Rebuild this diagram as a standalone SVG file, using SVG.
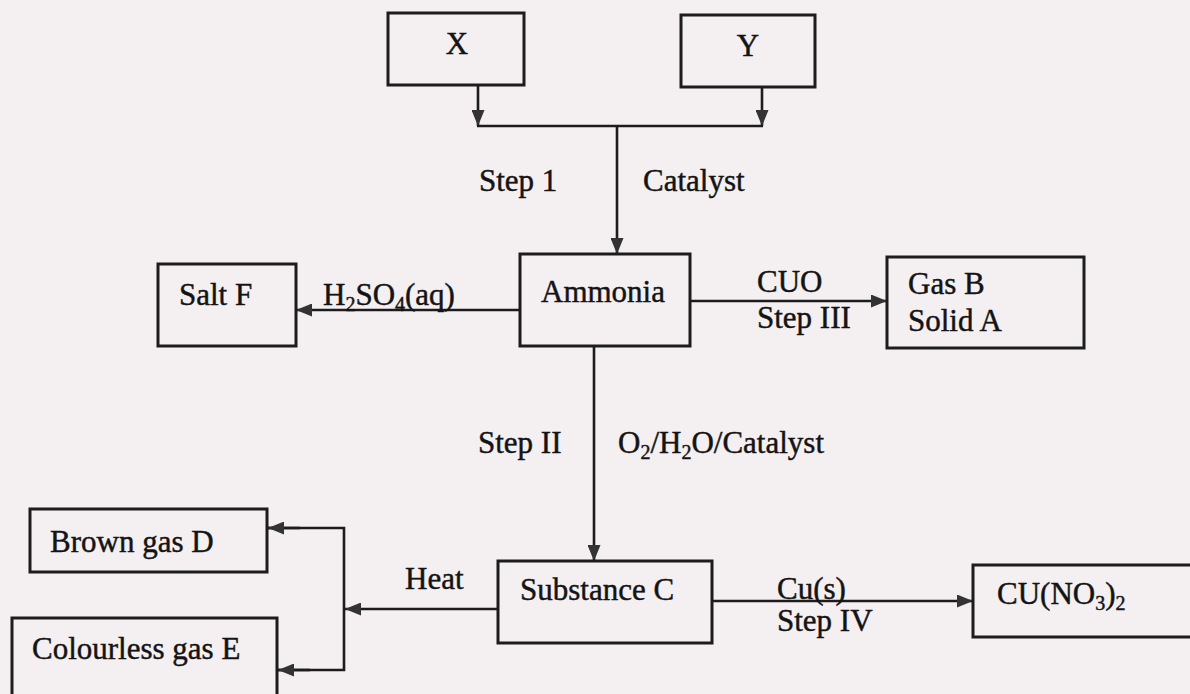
<svg xmlns="http://www.w3.org/2000/svg" width="1190" height="694" viewBox="0 0 1190 694">
<style>
.bg{fill:#f4eff0}
.box{fill:none;stroke:#1c1c1c;stroke-width:3}
.ln{fill:none;stroke:#1c1c1c;stroke-width:2.6}
.t{font-family:"Liberation Serif","Times New Roman",serif;font-size:31px;fill:#141414;stroke:#141414;stroke-width:0.45}
.s{font-size:20px}
</style>
<defs>
<marker id="ah" viewBox="0 0 16 13" refX="16" refY="6.5" markerWidth="16" markerHeight="13" markerUnits="userSpaceOnUse" orient="auto">
<path d="M0,0 L16,6.5 L0,13 z" fill="#333"/>
</marker>
</defs>
<rect class="bg" x="0" y="0" width="1190" height="694"/>

<g id="connectors">
<line class="ln" x1="478" y1="85" x2="478" y2="126" marker-end="url(#ah)"/>
<line class="ln" x1="762" y1="87" x2="762" y2="126" marker-end="url(#ah)"/>
<line class="ln" x1="477" y1="126" x2="763" y2="126"/>
<line class="ln" x1="617" y1="126" x2="617" y2="254" marker-end="url(#ah)"/>
<line class="ln" x1="520" y1="310" x2="296" y2="310" marker-end="url(#ah)"/>
<line class="ln" x1="690" y1="301" x2="887" y2="301" marker-end="url(#ah)"/>
<line class="ln" x1="594" y1="346" x2="594" y2="561" marker-end="url(#ah)"/>
<line class="ln" x1="498" y1="609" x2="345" y2="609" marker-end="url(#ah)"/>
<polyline class="ln" points="268,528 344,528 344,670 278,670"/>
<line class="ln" x1="300" y1="528" x2="268" y2="528" marker-end="url(#ah)"/>
<line class="ln" x1="310" y1="670" x2="278" y2="670" marker-end="url(#ah)"/>
<line class="ln" x1="712" y1="601" x2="973" y2="601" marker-end="url(#ah)"/>
<text class="t" x="479" y="191">Step 1</text>
<text class="t" x="643" y="191">Catalyst</text>
<text class="t" x="323" y="305">H<tspan class="s" dy="6">2</tspan><tspan dy="-6">SO</tspan><tspan class="s" dy="6">4</tspan><tspan dy="-6">(aq)</tspan></text>
<text class="t" x="757" y="292">CUO</text>
<text class="t" x="757" y="328">Step III</text>
<text class="t" x="478" y="453">Step II</text>
<text class="t" x="618" y="453">O<tspan class="s" dy="6">2</tspan><tspan dy="-6">/H</tspan><tspan class="s" dy="6">2</tspan><tspan dy="-6">O/Catalyst</tspan></text>
<text class="t" x="405" y="589">Heat</text>
<text class="t" x="777" y="599">Cu(s)</text>
<text class="t" x="777" y="631">Step IV</text>
</g>

<g id="node-x">
<rect class="box" x="388" y="13" width="136" height="72"/>
<text class="t" x="457" y="54" text-anchor="middle">X</text>
</g>
<g id="node-y">
<rect class="box" x="681" y="15" width="134" height="72"/>
<text class="t" x="748" y="56" text-anchor="middle">Y</text>
</g>
<g id="node-ammonia">
<rect class="box" x="520" y="254" width="170" height="92"/>
<text class="t" x="541" y="302">Ammonia</text>
</g>
<g id="node-salt-f">
<rect class="box" x="158" y="264" width="138" height="82"/>
<text class="t" x="179" y="305">Salt F</text>
</g>
<g id="node-gas-b">
<rect class="box" x="887" y="257" width="197" height="91"/>
<text class="t" x="908" y="294">Gas B</text>
<text class="t" x="908" y="331">Solid A</text>
</g>
<g id="node-substance-c">
<rect class="box" x="498" y="561" width="214" height="82"/>
<text class="t" x="520" y="600">Substance C</text>
</g>
<g id="node-brown-gas-d">
<rect class="box" x="30" y="509" width="237" height="63"/>
<text class="t" x="50" y="552">Brown gas D</text>
</g>
<g id="node-colourless-gas-e">
<rect class="box" x="12" y="618" width="265" height="90"/>
<text class="t" x="32" y="659">Colourless gas E</text>
</g>
<g id="node-cuno3">
<rect class="box" x="973" y="565" width="230" height="72"/>
<text class="t" x="997" y="604">CU(NO<tspan class="s" dy="6">3</tspan><tspan dy="-6">)</tspan><tspan class="s" dy="6">2</tspan></text>
</g>
</svg>
